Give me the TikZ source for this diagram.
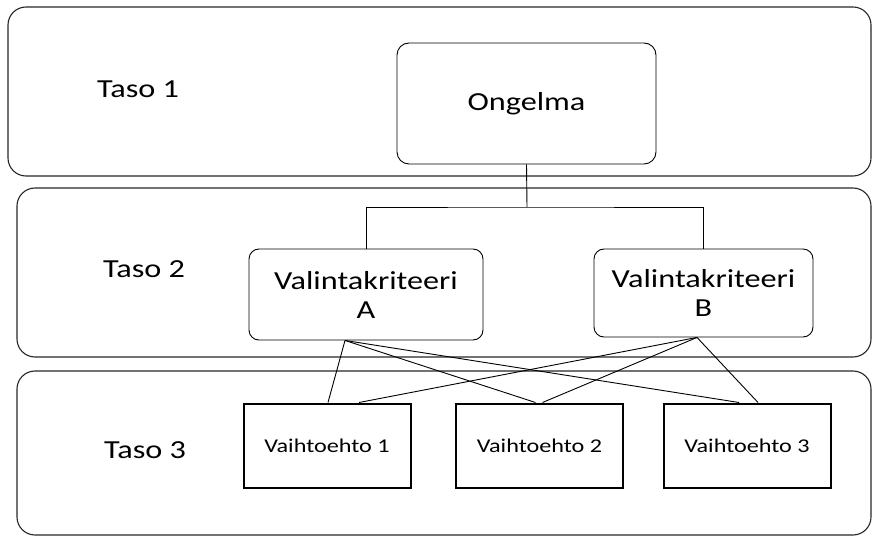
\documentclass[tikz,border=0pt]{standalone}
\usepackage{fontspec}
\setmainfont{Carlito}[FakeStretch=1.24]
\usetikzlibrary{calc}
\tikzset{
  panel/.style={draw=black!85, line width=1.1pt, rounded corners=18pt, inner sep=0pt},
  rbox/.style={draw=black, line width=0.9pt, rounded corners=10pt, inner sep=0pt, align=center,
    font=\fontsize{26}{29}\selectfont},
  vbox/.style={draw=black, line width=2pt, inner sep=0pt, minimum width=167pt, minimum height=84pt,
    font=\fontsize{19.5}{23}\selectfont},
  tasolbl/.style={anchor=base west, inner sep=0pt, font=\fontsize{26}{31}\selectfont},
  conn/.style={draw=black, line width=0.9pt}
}
\begin{document}
\begin{tikzpicture}[x=1pt,y=-1pt]
\useasboundingbox (0,0) rectangle (873,537);
% level panels
\node[panel, minimum width=863pt, minimum height=169pt] (lvl1) at (439.5,91.5) {};
\node[panel, minimum width=854pt, minimum height=169pt] (lvl2) at (444,272.5) {};
\node[panel, minimum width=854pt, minimum height=164pt] (lvl3) at (444,453) {};
% level labels
\node[tasolbl] (t1) at (97,98) {Taso 1};
\node[tasolbl] (t2) at (103,278) {Taso 2};
\node[tasolbl] (t3) at (104,458) {Taso 3};
% boxes
\node[rbox, rounded corners=12pt, minimum width=259pt, minimum height=121pt] (ong) at (526.5,103.5) {Ongelma};
\node[rbox, minimum width=234pt, minimum height=91pt] (A) at (366,294.5) {Valintakriteeri\\A};
\node[rbox, minimum width=219pt, minimum height=88pt] (B) at (703.5,293) {Valintakriteeri\\B};
\node[vbox] (V1) at (327,445.5) {Vaihtoehto 1};
\node[vbox] (V2) at (539.5,445.5) {Vaihtoehto 2};
\node[vbox] (V3) at (747,445.5) {Vaihtoehto 3};
% tree connectors
\coordinate (j) at (527,207);
\draw[conn] (ong.south) -- (j);
\draw[conn] (A.north) |- (j) -| (B.north);
% cross connectors
\coordinate (Aout) at ($(A.south)+(-21,0)$);
\coordinate (Bout) at ($(B.south)+(-6.5,0)$);
\draw[conn] (Aout) -- ($(V1.north)+(1,0)$);
\draw[conn] (Aout) -- ($(V2.north)+(-4,0)$);
\draw[conn] (Aout) -- ($(V3.north)+(-8,0)$);
\draw[conn] (Bout) -- ($(V1.north)+(32,0)$);
\draw[conn] (Bout) -- ($(V2.north)+(3,0)$);
\draw[conn] (Bout) -- ($(V3.north)+(11,0)$);
\end{tikzpicture}
\end{document}
